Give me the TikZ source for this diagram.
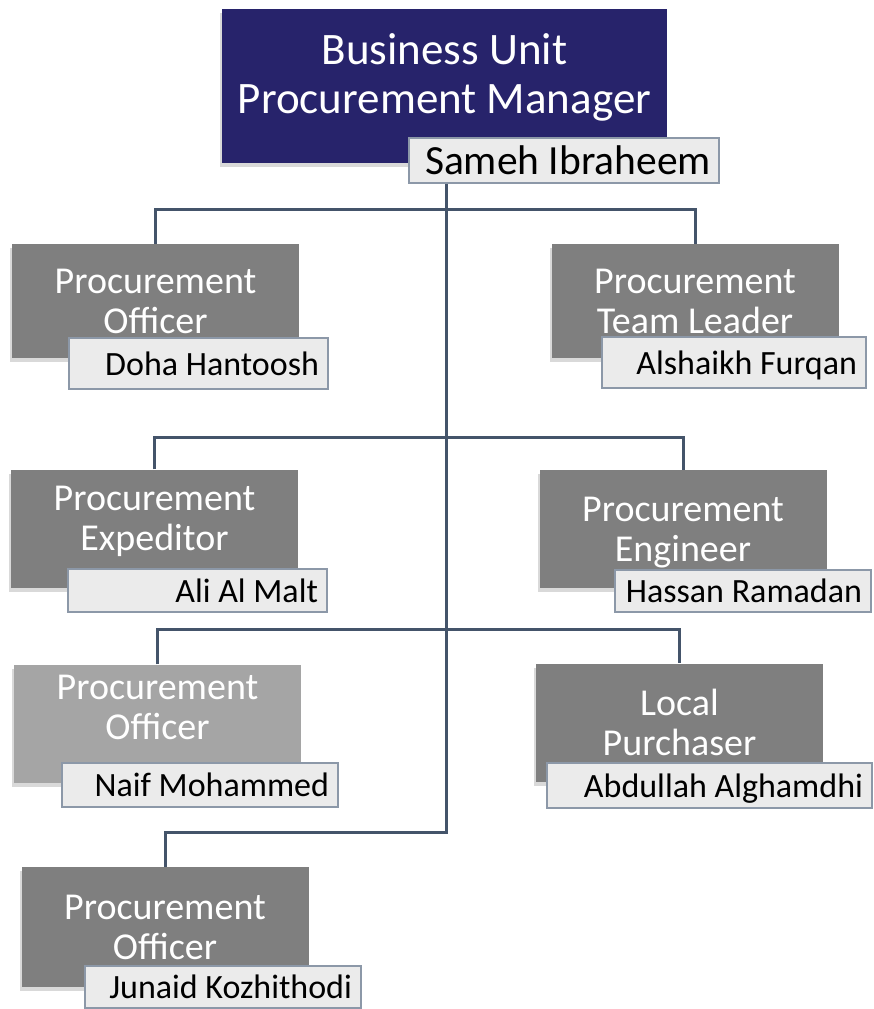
\documentclass[tikz,border=0pt]{standalone}
\usepackage{fontspec}
\setmainfont{Carlito}
\usetikzlibrary{shadows}
\definecolor{navy}{HTML}{27236B}
\definecolor{rolegray}{HTML}{7F7F7F}
\definecolor{palegray}{HTML}{A5A5A5}
\definecolor{namefill}{HTML}{EBEBEB}
\definecolor{nameline}{HTML}{8C98A8}
\definecolor{wirecol}{HTML}{44546A}

\begin{document}
\begin{tikzpicture}[x=1pt,y=-1pt,
                    jobbox/.style={rectangle,fill=rolegray,text=white,align=center,
                                   minimum width=287pt,minimum height=118pt,text depth=0pt,
                                   font=\fontsize{38}{40}\selectfont,
                                   drop shadow={shadow xshift=-2pt,shadow yshift=-4pt,opacity=.3}},
                    namebox/.style={rectangle,draw=nameline,line width=1.5pt,fill=namefill,
                                    align=flush right,inner xsep=9pt,inner ysep=0pt,text depth=0pt,
                                    font=\fontsize{34}{38}\selectfont},
                    wire/.style={draw=wirecol,line width=3pt}]
  \useasboundingbox (0,0) rectangle (873,1009);

  % 经理
  \node[jobbox,fill=navy,minimum width=445pt,minimum height=154pt,text depth=25pt,
        font=\fontsize{45}{49}\selectfont] (mgr) at (444.5,86) {Business Unit\\Procurement Manager};
  \node[namebox,text width=294pt,minimum height=45pt,inner xsep=8pt,font=\fontsize{41.5}{44}\selectfont]
        (mgrN) at (564,160.5) {Sameh Ibraheem};

  % 第一行
  \node[jobbox,minimum height=114pt] (offA) at (155.5,301) {Procurement\\Officer};
  \node[namebox,text width=241pt,minimum height=51pt] (offAN) at (198.5,363.5) {Doha Hantoosh};
  \node[jobbox,minimum height=114pt] (lead) at (695,301) {Procurement\\Team Leader};
  \node[namebox,text width=246pt,minimum height=51pt] (leadN) at (734,362.5) {Alshaikh Furqan};

  % 第二行
  \node[jobbox,text depth=20pt] (exped) at (154.5,528.5) {Procurement\\Expeditor};
  \node[namebox,text width=241pt,minimum height=43pt] (expedN) at (197.5,590.5) {Ali Al Malt};
  \node[jobbox] (eng) at (683,529) {Procurement\\Engineer};
  \node[namebox,text width=238pt,minimum height=42pt] (engN) at (743,591) {Hassan Ramadan};

  % 第三行
  \node[jobbox,fill=palegray,text depth=33pt] (offB) at (157.5,723.5) {Procurement\\Officer};
  \node[namebox,text width=258pt,minimum height=44pt] (offBN) at (200,785) {Naif Mohammed};
  \node[jobbox] (purch) at (679.5,722.5) {Local\\Purchaser};
  \node[namebox,text width=307pt,minimum height=45pt] (purchN) at (709.5,785.5) {Abdullah Alghamdhi};

  % 第四行
  \node[jobbox,minimum height=120pt] (offC) at (165,927) {Procurement\\Officer};
  \node[namebox,text width=258pt,minimum height=42pt] (offCN) at (223,987) {Junaid Kozhithodi};

  % 连线:主干 + 各行分支
  \coordinate (r1) at (446,209);
  \coordinate (r2) at (446,437);
  \coordinate (r3) at (446,629);
  \coordinate (r4) at (446,832);
  \draw[wire] (mgrN.south -| r1) -- (r4) -| (offC.north);
  \draw[wire] (offA.north) |- (r1) -| (lead.north);
  \draw[wire] (exped.north) |- (r2) -| (eng.north);
  \draw[wire] (offB.north) |- (r3) -| (purch.north);
\end{tikzpicture}
\end{document}
